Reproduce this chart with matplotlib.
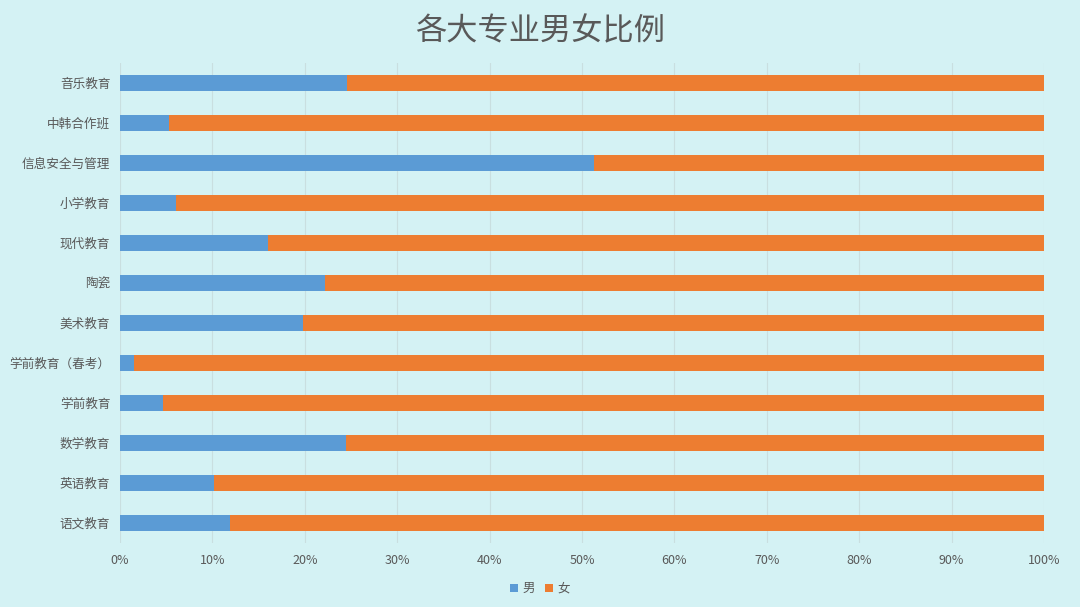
import matplotlib
matplotlib.use("Agg")
import matplotlib.pyplot as plt
import numpy as np

plt.rcParams['font.family'] = ['Noto Sans CJK SC', 'DejaVu Sans']

categories = ["音乐教育", "中韩合作班", "信息安全与管理", "小学教育", "现代教育", "陶瓷",
              "美术教育", "学前教育（春考）", "学前教育", "数学教育", "英语教育", "语文教育"]
male = [24.6, 5.3, 51.3, 6.1, 16.0, 22.2, 19.8, 1.5, 4.7, 24.5, 10.2, 11.9]
female = [100 - m for m in male]
xticks = [0, 10, 20, 30, 40, 50, 60, 70, 80, 90, 100]
xticklabels = [f"{t}%" for t in xticks]

bg = "#d4f2f4"
text_c = "#595959"

fig = plt.figure(figsize=(10.8, 6.07), dpi=100, facecolor=bg)
ax = fig.add_axes([0.1111, 0.1054, 0.8556, 0.7908])
ax.set_facecolor("none")

y = np.arange(len(categories))
ax.barh(y, male, height=0.4, color="#5B9BD5", label="男", zorder=3)
ax.barh(y, female, left=male, height=0.4, color="#ED7D31", label="女", zorder=3)

ax.set_ylim(len(categories) - 0.5, -0.5)
ax.set_xlim(0, 100)
ax.set_yticks(y)
ax.set_yticklabels(categories, fontsize=9.1, color=text_c)
ax.set_xticks(xticks)
ax.set_xticklabels(xticklabels, fontsize=9, color=text_c)
ax.tick_params(axis='y', length=0, pad=7)
ax.tick_params(axis='x', length=0, pad=8)
ax.grid(axis='x', color="#c9dfe0", linewidth=0.8, zorder=0)
for s in ax.spines.values():
    s.set_visible(False)

fig.text(0.5, 0.949, "各大专业男女比例", ha="center", va="center", fontsize=22.5, color=text_c)

leg = fig.legend(loc="center", bbox_to_anchor=(0.5, 0.03), ncol=2, frameon=False,
                 fontsize=9, handlelength=0.6, handleheight=0.6, handletextpad=0.4,
                 columnspacing=0.8, labelcolor=text_c)

fig.savefig("out.png", dpi=100, facecolor=bg)
